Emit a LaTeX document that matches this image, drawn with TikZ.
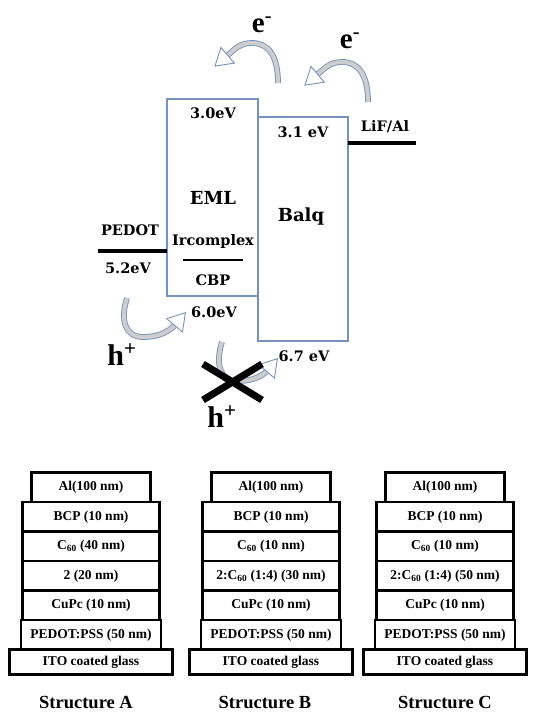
\documentclass[tikz,border=0pt]{standalone}
\usepackage{fontspec}
\setmainfont{Liberation Serif}
\newfontfamily\bandfont{DejaVu Serif}
\usetikzlibrary{arrows.meta,positioning}

\definecolor{bandblue}{RGB}{118,146,190}
\definecolor{shaftgray}{RGB}{205,205,205}

\begin{document}
\begin{tikzpicture}[x=1pt, y=-1pt,
        band/.style={draw=bandblue, line width=1.2pt, inner sep=0pt, outer sep=0pt},
        level/.style={line width=4pt},
        elabel/.style={font=\bandfont\bfseries\fontsize{14.5}{16}\selectfont, inner sep=0pt},
        blabel/.style={font=\bandfont\bfseries\fontsize{18}{20}\selectfont, inner sep=0pt},
        carrier/.style={font=\bfseries\fontsize{30}{32}\selectfont, inner sep=0pt, anchor=base},
        flow/.style={draw=bandblue, line width=0.9pt, double=shaftgray, double distance=4pt},
        flowhead/.style={draw=bandblue, line width=0.9pt, -{Triangle[length=18pt, width=22pt, fill=white]}},
        block/.style={line width=7pt},
        layer/.style={draw, line width=2.6pt, minimum width=137pt, minimum height=29.5pt,
                        inner sep=0pt, outer sep=0pt, font=\bfseries\fontsize{13.5}{15}\selectfont},
        toplayer/.style={layer, minimum width=119pt},
        pedotlayer/.style={layer, minimum width=140pt},
        glass/.style={layer, minimum width=163pt, minimum height=25pt},
        caption/.style={font=\bfseries\fontsize{18.5}{20}\selectfont, anchor=base}
    ]
    \useasboundingbox (0,0) rectangle (541,713);

    % ---- Bandas de energia ----
    \node[band, minimum width=91pt, minimum height=197pt] (eml) at (212.5,197.5) {};
    \node[band, minimum width=90pt, minimum height=224pt] (balq) at (303,229) {};

    \node[elabel] (lumoeml) at (213,113) {3.0eV};
    \node[elabel] (lumobalq) at (303,132) {3.1 eV};
    \node[elabel] (homoeml) at (214,312) {6.0eV};
    \node[elabel] (homobalq) at (304,356) {6.7 eV};
    \node[blabel] (emltxt) at (213,198) {EML};
    \node[blabel] (balqtxt) at (301,217) {Balq};
    \node[elabel] (ircx) at (213,241) {Ircomplex};
    \node[elabel] (cbp) at (213,280) {CBP};
    \draw[line width=2pt] (183,260) -- (243,260);

    % Eletrodos
    \coordinate (pedotL) at (98,251);
    \coordinate (lifR) at (416,143);
    \draw[level] (pedotL) -- (pedotL -| eml.west);
    \draw[level] (lifR -| balq.east) -- (lifR);
    \node[elabel] (pedot) at (130,230) {PEDOT};
    \node[elabel] (wfpedot) at (128,268) {5.2eV};
    \node[elabel] (lif) at (385,127) {LiF/Al};

    % Setas: eletrons
    \coordinate (e1tail) at (278,83);
    \coordinate (e1base) at (228,55);
    \coordinate (e1tip) at (214.3,66.7);
    \draw[flow] (e1tail) .. controls (278,55) and (268,43) .. (252,43)
                         .. controls (240,43) and (235,49) .. (e1base);
    \draw[flowhead] (e1base) -- (e1tip);
    \coordinate (e2tail) at (368,102);
    \coordinate (e2base) at (318,74);
    \coordinate (e2tip) at (304.3,85.7);
    \draw[flow] (e2tail) .. controls (368,74) and (358,62) .. (342,62)
                         .. controls (330,62) and (325,68) .. (e2base);
    \draw[flowhead] (e2base) -- (e2tip);
    \node[carrier, font=\bfseries\fontsize{29}{31}\selectfont] (elec1) at (262,32) {e\textsuperscript{-}};
    \node[carrier, font=\bfseries\fontsize{29}{31}\selectfont] (elec2) at (350,48) {e\textsuperscript{-}};

    % Setas: lacunas
    \coordinate (h1tail) at (127,298);
    \coordinate (h1base) at (174.3,325.7);
    \coordinate (h1tip) at (186,312);
    \draw[flow] (h1tail) .. controls (120,320) and (125,337) .. (143,337)
                         .. controls (155,337) and (166,334) .. (h1base);
    \draw[flowhead] (h1base) -- (h1tip);
    \coordinate (h2tail) at (222,342);
    \coordinate (h2base) at (266.3,371.7);
    \coordinate (h2tip) at (278,358);
    \draw[flow] (h2tail) .. controls (215,364) and (220,381) .. (237,381)
                         .. controls (248,381) and (258,379) .. (h2base);
    \draw[flowhead] (h2base) -- (h2tip);
    \node[carrier] (hole1) at (122,365) {h\textsuperscript{+}};
    \node[carrier] (hole2) at (222,427) {h\textsuperscript{+}};

    % Bloqueio
    \draw[block] (203,364) -- (262,400);
    \draw[block] (203,400) -- (262,364);

    % ---- Structure A ----
    \node[glass] (itoA) at (91,662) {ITO coated glass};
    \node[pedotlayer, above=0pt of itoA] (pssA) {PEDOT:PSS (50 nm)};
    \node[layer, above=0pt of pssA] (cupcA) {CuPc (10 nm)};
    \node[layer, above=0pt of cupcA] (mixA) {2 (20 nm)};
    \node[layer, above=0pt of mixA] (csixtyA) {C\textsubscript{60} (40 nm)};
    \node[layer, above=0pt of csixtyA] (bcpA) {BCP (10 nm)};
    \node[toplayer, above=0pt of bcpA] (alA) {Al(100 nm)};
    \node[caption] (capA) at (86,708) {Structure A};

    % ---- Structure B ----
    \node[glass] (itoB) at (271,662) {ITO coated glass};
    \node[pedotlayer, above=0pt of itoB] (pssB) {PEDOT:PSS (50 nm)};
    \node[layer, above=0pt of pssB] (cupcB) {CuPc (10 nm)};
    \node[layer, above=0pt of cupcB] (mixB) {2:C\textsubscript{60} (1:4) (30 nm)};
    \node[layer, above=0pt of mixB] (csixtyB) {C\textsubscript{60} (10 nm)};
    \node[layer, above=0pt of csixtyB] (bcpB) {BCP (10 nm)};
    \node[toplayer, above=0pt of bcpB] (alB) {Al(100 nm)};
    \node[caption] (capB) at (265,708) {Structure B};

    % ---- Structure C ----
    \node[glass] (itoC) at (445,662) {ITO coated glass};
    \node[pedotlayer, above=0pt of itoC] (pssC) {PEDOT:PSS (50 nm)};
    \node[layer, above=0pt of pssC] (cupcC) {CuPc (10 nm)};
    \node[layer, above=0pt of cupcC] (mixC) {2:C\textsubscript{60} (1:4) (50 nm)};
    \node[layer, above=0pt of mixC] (csixtyC) {C\textsubscript{60} (10 nm)};
    \node[layer, above=0pt of csixtyC] (bcpC) {BCP (10 nm)};
    \node[toplayer, above=0pt of bcpC] (alC) {Al(100 nm)};
    \node[caption] (capC) at (445,708) {Structure C};

    \end{tikzpicture}
\end{document}
